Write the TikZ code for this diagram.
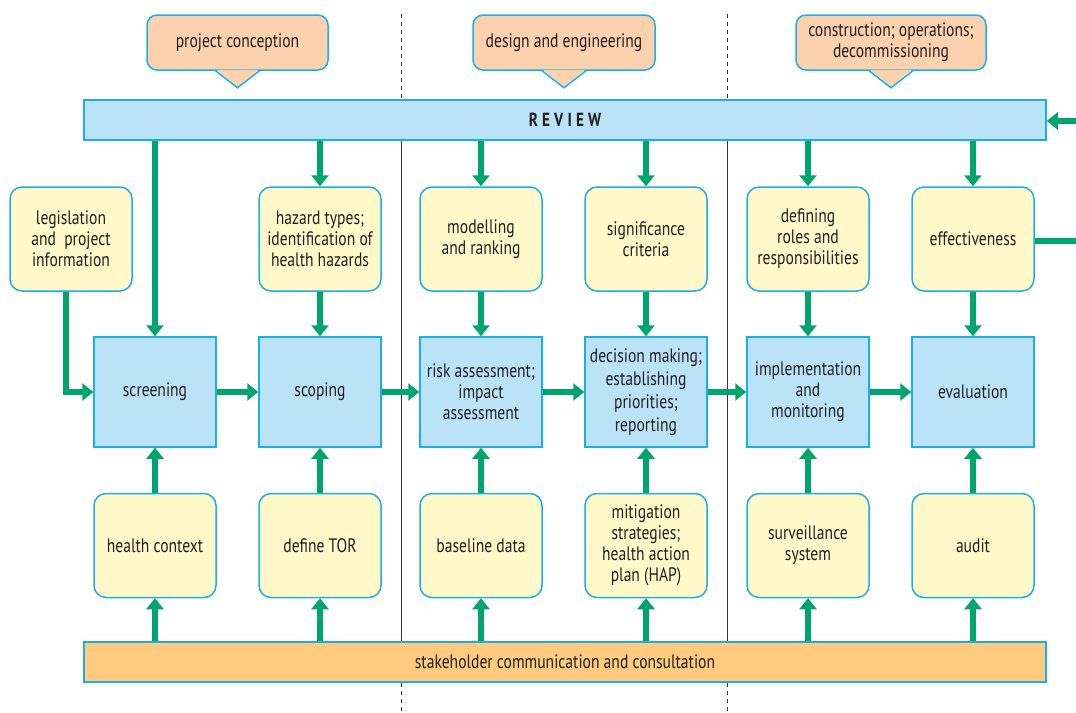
\documentclass[tikz,border=0pt]{standalone}
\usepackage{fontspec}
\setmainfont{PT Sans}[FakeStretch=0.8]
\usetikzlibrary{arrows.meta}
\definecolor{grn}{HTML}{00A56E}
\definecolor{cyanb}{HTML}{1AAFE6}
\definecolor{blfill}{HTML}{BAE3F7}
\definecolor{yfill}{HTML}{FFF9CA}
\definecolor{cfill}{HTML}{FBD1AE}
\definecolor{sfill}{HTML}{FECB7F}
\definecolor{ink}{HTML}{231F20}
\tikzset{
  txt/.style={font=\fontsize{19.5}{21}\selectfont, text=ink, align=center},
  mainbox/.style={txt, draw=cyanb, fill=blfill, line width=1.5pt, minimum width=122pt, minimum height=110pt, inner sep=1pt},
  ybox/.style={txt, draw=cyanb, fill=yfill, line width=1.5pt, rounded corners=12pt, minimum width=122pt, minimum height=104pt, inner sep=1pt},
  callout/.style={txt, draw=cyanb, fill=cfill, line width=1.5pt, rounded corners=10pt, minimum height=55pt, inner sep=1pt},
  bar/.style={txt, draw=cyanb, line width=1.5pt, minimum width=962pt, minimum height=40pt, inner sep=0pt},
  arr/.style={draw=grn, line width=6pt, -{Triangle[width=17pt,length=11pt]}},
  gline/.style={draw=grn, line width=6pt},
  divsolid/.style={draw=black!80, line width=0.7pt},
  divdash/.style={draw=black!80, line width=0.7pt, dash pattern=on 4pt off 4pt}
}
\begin{document}
\begin{tikzpicture}[x=1pt,y=-1pt]
\useasboundingbox (0,0) rectangle (1076,712);
% dividers
\foreach \xx in {401,727}{
  \draw[divdash] (\xx,14) -- (\xx,100);
  \draw[divsolid] (\xx,139) -- (\xx,642);
  \draw[divdash] (\xx,683) -- (\xx,712);
}
% callouts
\newcommand\mkcallout[4]{%
  \node[callout, minimum width=#3] (#1) at #2 {#4};
  \fill[cfill] ([xshift=-21pt,yshift=1pt]#1.south) -- ([yshift=-16pt]#1.south) -- ([xshift=21pt,yshift=1pt]#1.south) -- cycle;
  \draw[cyanb, line width=1.5pt, line join=miter] ([xshift=-22pt]#1.south) -- ([yshift=-17pt]#1.south) -- ([xshift=22pt]#1.south);
}
\mkcallout{cA}{(237.5,42.5)}{181pt}{project conception}
\mkcallout{cB}{(564,42.5)}{182pt}{design and engineering}
\mkcallout{cC}{(891,42.5)}{190pt}{construction; operations;\\decommissioning}
% bars
\node[bar, fill=blfill] (review) at (565,120) {\raisebox{-1pt}{\fontsize{19}{20}\selectfont\bfseries\addfontfeature{LetterSpace=22}REVIEW}};
\node[bar, fill=sfill] (stake) at (565,662) {stakeholder communication and consultation};
% main boxes
\node[mainbox] (screen) at (155,392) {screening};
\node[mainbox] (scope) at (320,392) {scoping};
\node[mainbox] (risk) at (481,392) {risk assessment;\\impact\\assessment};
\node[mainbox, font=\fontsize{19.5}{23}\selectfont] (dec) at (646,392) {decision making;\\establishing\\priorities;\\reporting};
\node[mainbox] (impl) at (808,392) {implementation\\and\\monitoring};
\node[mainbox] (eval) at (973,392) {evaluation};
% top boxes
\node[ybox] (legis) at (71,239) {legislation\\and\ \ project\\information};
\node[ybox] (hazard) at (320,239) {hazard types;\\identification of\\health hazards};
\node[ybox] (model) at (481,239) {modelling\\and ranking};
\node[ybox] (signif) at (646,239) {significance\\criteria};
\node[ybox] (roles) at (808,239) {defining\\roles and\\responsibilities};
\node[ybox] (effect) at (973,239) {effectiveness};
% bottom boxes
\node[ybox] (health) at (155,545.5) {health context};
\node[ybox] (tor) at (320,545.5) {define TOR};
\node[ybox] (base) at (481,545.5) {baseline data};
\node[ybox] (mitig) at (646,545.5) {mitigation\\strategies;\\health action\\plan (HAP)};
\node[ybox] (surv) at (808,545.5) {surveillance\\system};
\node[ybox] (audit) at (973,545.5) {audit};
% review to top boxes / screening
\draw[arr] (review.south -| screen.north) -- (screen.north);
\foreach \n in {hazard,model,signif,roles,effect}{
  \draw[arr] (review.south -| \n.north) -- (\n.north);
}
% top to main
\draw[arr] (hazard) -- (scope);
\draw[arr] (model) -- (risk);
\draw[arr] (signif) -- (dec);
\draw[arr] (roles) -- (impl);
\draw[arr] (effect) -- (eval);
% bottom to main
\draw[arr] (health) -- (screen);
\draw[arr] (tor) -- (scope);
\draw[arr] (base) -- (risk);
\draw[arr] (mitig) -- (dec);
\draw[arr] (surv) -- (impl);
\draw[arr] (audit) -- (eval);
% stakeholder to bottom
\foreach \n in {health,tor,base,mitig,surv,audit}{
  \draw[arr] (stake.north -| \n.south) -- (\n.south);
}
% main chain
\draw[arr] (screen) -- (scope);
\draw[arr] (scope) -- (risk);
\draw[arr] (risk) -- (dec);
\draw[arr] (dec) -- (impl);
\draw[arr] (impl) -- (eval);
% legislation to screening
\coordinate (lg) at (66,291);
\draw[arr, line join=miter] (legis.south -| lg) |- (screen.west);
% feedback loop (clipped at edge)
\coordinate (redge) at (1076,241);
\coordinate (redge2) at (1076,121);
\draw[gline] (effect.east |- redge) -- (redge);
\draw[arr] (redge2) -- (review.east |- redge2);
\end{tikzpicture}
\end{document}
